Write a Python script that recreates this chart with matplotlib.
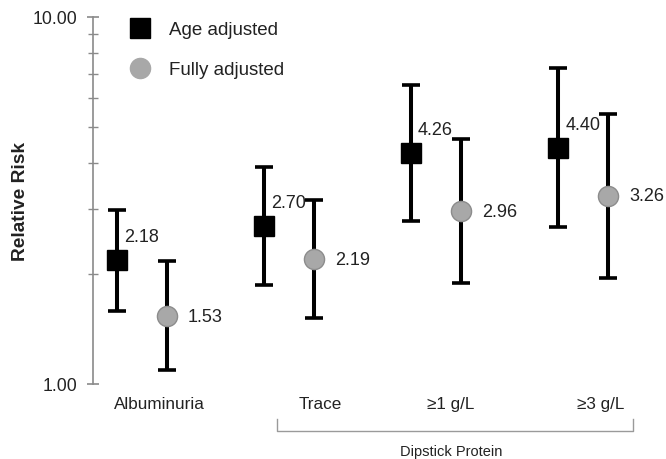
import numpy as np
import matplotlib
matplotlib.use("Agg")
import matplotlib.pyplot as plt
from matplotlib.lines import Line2D
import matplotlib.transforms as mtransforms
from matplotlib.ticker import FixedLocator, NullFormatter

plt.rcParams["font.family"] = ["Liberation Sans", "DejaVu Sans"]

categories = ["Albuminuria", "Trace", "\u22651 g/L", "\u22653 g/L"]
age_rr = [2.18, 2.70, 4.26, 4.40]
age_lo = [1.58, 1.86, 2.78, 2.67]
age_hi = [2.98, 3.91, 6.53, 7.25]
full_rr = [1.53, 2.19, 2.96, 3.26]
full_lo = [1.09, 1.51, 1.89, 1.94]
full_hi = [2.16, 3.18, 4.65, 5.44]

group_x = np.arange(len(categories))
label_x = [0.12, 1.21, 2.10, 3.12]
offset = 0.17
text_col = "#222222"
axis_col = "#8a8a8a"

fig = plt.figure(figsize=(6.66, 4.6), dpi=100)
ax = fig.add_axes([93 / 666, 75 / 460, 552 / 666, 367 / 460])

ax.set_yscale("log")
ax.set_ylim(1, 10)
ax.set_xlim(-0.333, 3.42)

err_kw = dict(fmt="none", ecolor="black", elinewidth=2.9, capsize=6.6, capthick=2.6, zorder=2)
xa = group_x - offset
xf = group_x + offset
ax.errorbar(xa, age_rr, yerr=[np.subtract(age_rr, age_lo), np.subtract(age_hi, age_rr)], **err_kw)
ax.errorbar(xf, full_rr, yerr=[np.subtract(full_rr, full_lo), np.subtract(full_hi, full_rr)], **err_kw)
ax.plot(xa, age_rr, "s", ms=14.2, color="black", mec="black", zorder=3)
ax.plot(xf, full_rr, "o", ms=14.5, color="#a8a8a8", mec="#8c8c8c", mew=1, zorder=3)

for x, v in zip(xa, age_rr):
    ax.annotate(f"{v:.2f}", (x, v), xytext=(5, 17), textcoords="offset points",
                ha="left", va="center", fontsize=13, color=text_col)
for x, v in zip(xf, full_rr):
    ax.annotate(f"{v:.2f}", (x, v), xytext=(15, 0), textcoords="offset points",
                ha="left", va="center", fontsize=13, color=text_col)

# axes styling
for s in ["top", "right", "bottom"]:
    ax.spines[s].set_visible(False)
ax.spines["left"].set_color(axis_col)
ax.spines["left"].set_linewidth(1.2)
ax.yaxis.set_major_locator(FixedLocator([1, 10]))
ax.set_yticklabels(["1.00", "10.00"])
ax.yaxis.set_minor_locator(FixedLocator([2, 3, 4, 5, 6, 7, 8, 9]))
ax.yaxis.set_minor_formatter(NullFormatter())
ax.tick_params(axis="y", which="major", direction="inout", length=8, width=1.2,
               color=axis_col, labelsize=12.7, labelcolor=text_col, pad=7)
ax.tick_params(axis="y", which="minor", direction="inout", length=7, width=1.0, color=axis_col)
ax.set_xticks(label_x)
ax.set_xticklabels(categories)
ax.tick_params(axis="x", length=0, labelsize=12.3, labelcolor=text_col, pad=9)
ax.set_ylabel("Relative Risk", fontsize=13.8, fontweight="bold", color=text_col, labelpad=3)

# bracket for dipstick protein
trans = mtransforms.blended_transform_factory(ax.transData, ax.transAxes)
bx0, bx1 = 0.918, 3.34
ax.add_line(Line2D([bx0, bx0, bx1, bx1], [-0.095, -0.128, -0.128, -0.095], transform=trans,
                   color="#9a9a9a", lw=1.0, clip_on=False))
ax.text((bx0 + bx1) / 2 - 0.03, -0.183, "Dipstick Protein", transform=trans, ha="center",
        va="center", fontsize=10.5, color=text_col)

handles = [
    Line2D([], [], marker="s", ls="none", ms=14.2, color="black"),
    Line2D([], [], marker="o", ls="none", ms=14.5, color="#a8a8a8", mec="#a8a8a8"),
]
ax.legend(handles, ["Age adjusted", "Fully adjusted"], loc="upper left",
          bbox_to_anchor=(131 / 666, 1 - 22 / 460), bbox_transform=fig.transFigure,
          frameon=False, fontsize=13.5, handlelength=1.0, handletextpad=1.05,
          labelspacing=1.22, borderpad=0, borderaxespad=0, labelcolor=text_col)

fig.savefig("out.png", dpi=100)
